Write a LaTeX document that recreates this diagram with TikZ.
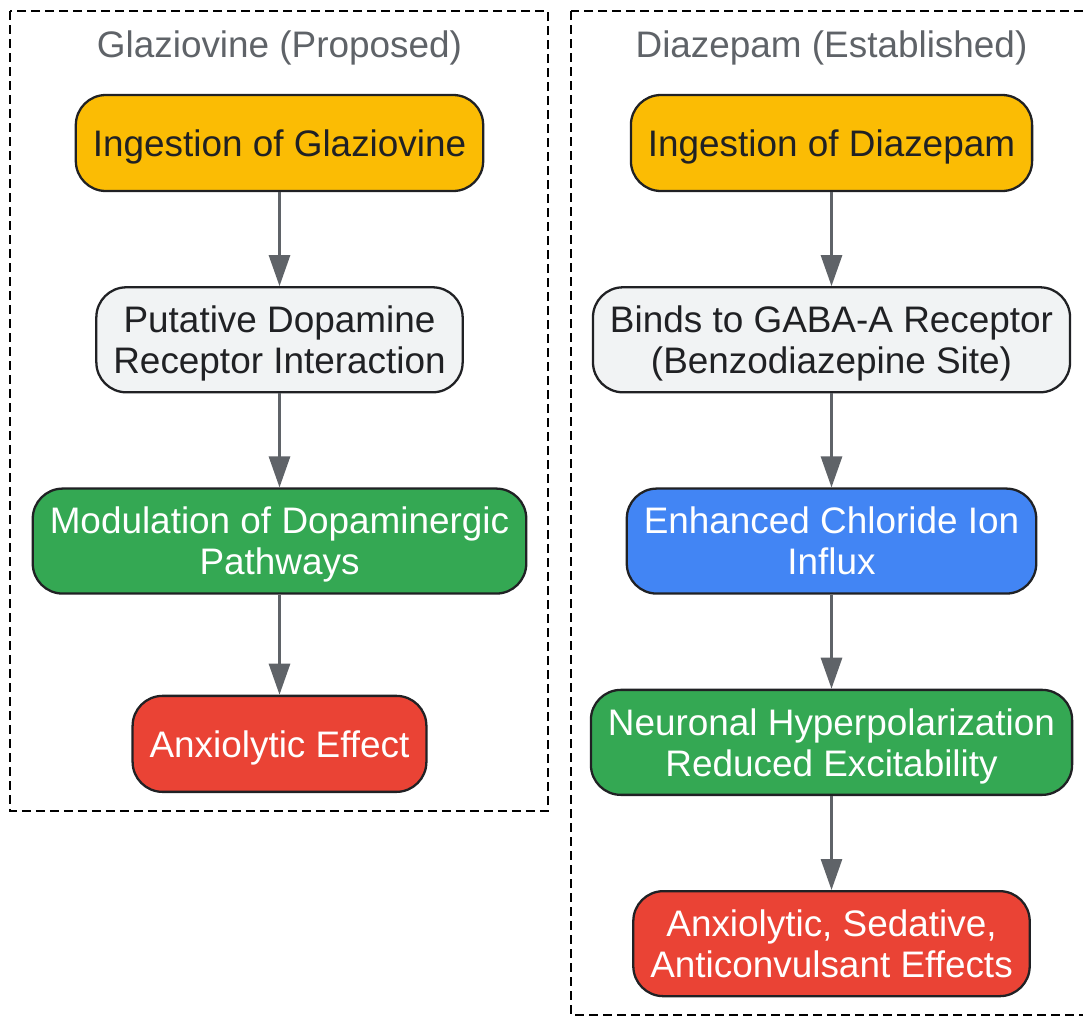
\documentclass[tikz,border=0pt]{standalone}
\usepackage{fontspec}
\setmainfont{Liberation Sans}
\usetikzlibrary{arrows.meta,positioning}
\definecolor{cY}{HTML}{FBBC04}
\definecolor{cL}{HTML}{F1F3F4}
\definecolor{cG}{HTML}{34A853}
\definecolor{cB}{HTML}{4285F4}
\definecolor{cR}{HTML}{EA4335}
\definecolor{cInk}{HTML}{202124}
\definecolor{cGrey}{HTML}{5F6368}
\tikzset{
  stage/.style={draw=cInk,line width=1.3pt,rounded corners=0.6cm,fill=#1,text=cInk,align=center,inner xsep=0.34cm,text depth=0pt,minimum height=1.92cm,font=\fontsize{21}{23.3}\selectfont},
  tall/.style={minimum height=2.1cm},
  flow/.style={-{Triangle[length=0.62cm,width=0.42cm]},line width=1.6pt,draw=cGrey,fill=cGrey},
  group/.style={draw=black,line width=1.2pt,dash pattern=on 0.18cm off 0.1cm},
  title/.style={text=cGrey,font=\fontsize{21}{23.3}\selectfont}
}

\begin{document}
\begin{tikzpicture}[node distance=1.88cm]
    \useasboundingbox (0,0) rectangle (21.66,-20.34);
    % Clusters
    \draw[group] (0.2,-0.22) rectangle (10.96,-16.22);
    \draw[group] (11.42,-0.22) rectangle (21.8,-20.3);
    \node[title] (tglaz) at (5.59,-0.96) {Glaziovine (Proposed)};
    \node[title] (tdiaz) at (16.63,-0.96) {Diazepam (Established)};

    % Nodes
    \node[stage=cY] (glaz) at (5.59,-2.86) {Ingestion of Glaziovine};
    \node[stage=cL, tall, below=of glaz] (dopa) {Putative Dopamine\\Receptor Interaction};
    \node[stage=cG, tall, text=white, below=of dopa] (path) {Modulation of Dopaminergic\\Pathways};
    \node[stage=cR, text=white, below=2cm of path] (anx) {Anxiolytic Effect};

    \node[stage=cY] (diaz) at (16.63,-2.86) {Ingestion of Diazepam};
    \node[stage=cL, tall, below=of diaz] (gaba) {Binds to GABA-A Receptor\\(Benzodiazepine Site)};
    \node[stage=cB, tall, text=white, below=of gaba] (chl) {Enhanced Chloride Ion\\Influx};
    \node[stage=cG, tall, text=white, below=of chl] (hyp) {Neuronal Hyperpolarization\\Reduced Excitability};
    \node[stage=cR, tall, text=white, below=of hyp] (eff) {Anxiolytic, Sedative,\\Anticonvulsant Effects};

    % Paths
    \draw[flow] (glaz) -- (dopa);
    \draw[flow] (dopa) -- (path);
    \draw[flow] (path) -- (anx);
    \draw[flow] (diaz) -- (gaba);
    \draw[flow] (gaba) -- (chl);
    \draw[flow] (chl) -- (hyp);
    \draw[flow] (hyp) -- (eff);
\end{tikzpicture}
\end{document}
